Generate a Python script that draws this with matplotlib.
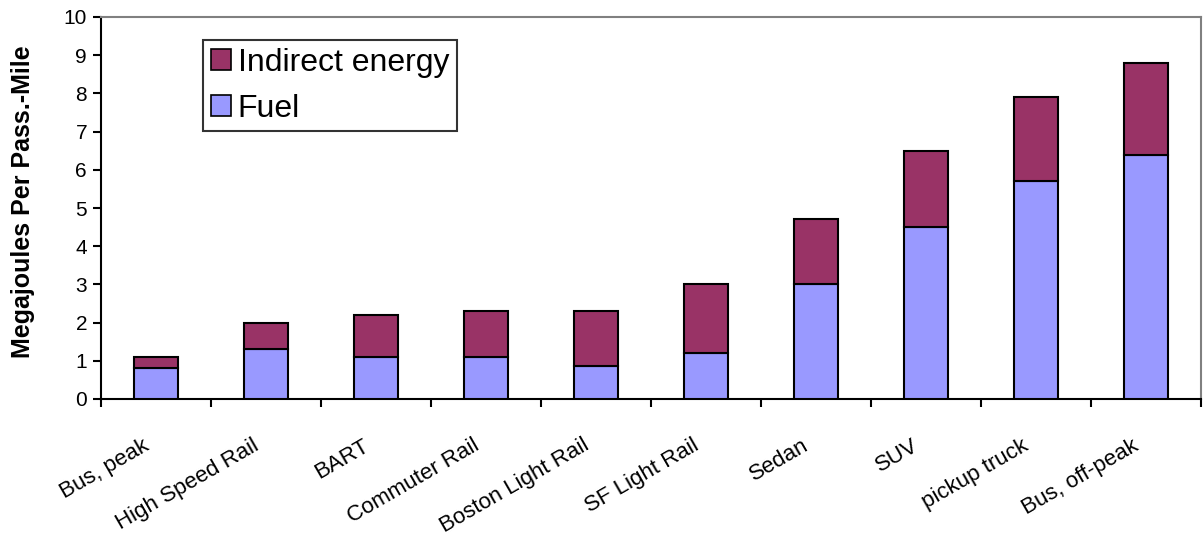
import matplotlib
matplotlib.use("Agg")
import matplotlib.pyplot as plt
from matplotlib.patches import Patch
from matplotlib.transforms import ScaledTranslation
import numpy as np

categories = ["Bus, peak", "High Speed Rail", "BART", "Commuter Rail", "Boston Light Rail",
              "SF Light Rail", "Sedan", "SUV", "pickup truck", "Bus, off-peak"]
fuel = [0.8, 1.3, 1.1, 1.1, 0.87, 1.2, 3.0, 4.5, 5.7, 6.4]
indirect = [0.3, 0.7, 1.1, 1.2, 1.43, 1.8, 1.7, 2.0, 2.2, 2.4]
yticks = list(range(0, 11))

plt.rcParams['font.family'] = ['Liberation Sans', 'DejaVu Sans']

fig = plt.figure(figsize=(12.03, 5.40), dpi=100)
ax = fig.add_axes([101/1203, 1-399/540, 1100/1203, 382/540])

x = np.arange(len(categories))
fuel_c = '#9999FF'
ind_c = '#993366'
ax.bar(x, fuel, width=0.4, color=fuel_c, edgecolor='black', linewidth=1.5, zorder=3)
ax.bar(x, indirect, bottom=fuel, width=0.4, color=ind_c, edgecolor='black', linewidth=1.5, zorder=3)

ax.set_xlim(-0.5, len(categories) - 0.5)
ax.set_ylim(0, 10)
ax.set_yticks(yticks)
ax.set_yticklabels([str(v) for v in yticks], fontsize=15)
ax.tick_params(axis='y', direction='out', length=6, width=1.5, pad=4)

ax.set_xticks(x)
ax.set_xticklabels(categories, fontsize=16, rotation=30, ha='right', va='top',
                   rotation_mode='anchor')
ax.tick_params(axis='x', which='major', length=0, pad=26)
off = ScaledTranslation(-14/100, 0, fig.dpi_scale_trans)
for lab in ax.get_xticklabels():
    lab.set_transform(lab.get_transform() + off)
ax.set_xticks(np.arange(-0.5, len(categories)), minor=True)
ax.tick_params(axis='x', which='minor', direction='out', length=6, width=1.5)

for s in ['left', 'bottom']:
    ax.spines[s].set_color('black')
    ax.spines[s].set_linewidth(1.5)
for s in ['top', 'right']:
    ax.spines[s].set_color('#808080')
    ax.spines[s].set_linewidth(1.5)

ax.set_ylabel('Megajoules Per Pass.-Mile', fontsize=18, fontweight='bold')
ax.yaxis.set_label_coords((35-101)/1100, (399-202)/382)

handles = [Patch(facecolor=ind_c, edgecolor='black', linewidth=1.2, label='Indirect energy'),
           Patch(facecolor=fuel_c, edgecolor='black', linewidth=1.2, label='Fuel')]
leg = ax.legend(handles=handles, loc='upper left', bbox_to_anchor=(102/1100, 1-23/382),
                fontsize=23, frameon=True, fancybox=False, edgecolor='black',
                handlelength=0.625, handleheight=0.625, handletextpad=0.22,
                borderpad=0.24, labelspacing=0.5, borderaxespad=0)
leg.get_frame().set_linewidth(1.5)

fig.savefig('out.png', dpi=100)
